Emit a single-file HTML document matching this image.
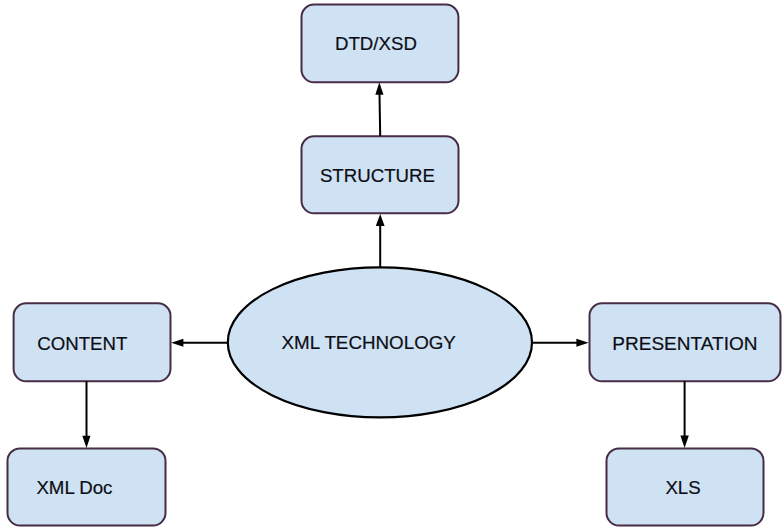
<!DOCTYPE html>
<html><head><meta charset="utf-8">
<style>
html,body{margin:0;padding:0;background:#fff;}
body{width:784px;height:531px;overflow:hidden;position:relative;}
svg{position:absolute;left:0;top:0;}
text{font-family:"Liberation Sans", sans-serif;font-size:18.67px;fill:#0d0d14;stroke:#0d0d14;stroke-width:0.2px;}
</style></head><body>
<svg width="784" height="531" viewBox="0 0 784 531">
<g fill="#cfe2f3" stroke="#472c45" stroke-width="2">
<rect x="301.5" y="4.6" width="156.9" height="77.7" rx="12.5"/>
<rect x="301.5" y="136.3" width="157" height="77" rx="12.5"/>
<rect x="13.6" y="303.3" width="156.9" height="78" rx="12.5"/>
<rect x="7.5" y="448.4" width="158" height="77.1" rx="12.5"/>
<rect x="589.5" y="303.3" width="191" height="78" rx="12.5"/>
<rect x="606.5" y="448.4" width="157" height="77.1" rx="12.5"/>
</g>
<ellipse cx="379.9" cy="342.4" rx="152.1" ry="75" fill="#cfe2f3" stroke="#000" stroke-width="2.2"/>
<g stroke="#000" stroke-width="2" fill="none">
<line x1="380.2" y1="136" x2="379.5" y2="94"/>
<line x1="380.2" y1="267" x2="380.2" y2="225"/>
<line x1="228" y1="342.7" x2="182" y2="342.7"/>
<line x1="532" y1="342.7" x2="577" y2="342.7"/>
<line x1="86.5" y1="381" x2="86.5" y2="437"/>
<line x1="684.6" y1="381" x2="684.6" y2="437"/>
</g>
<g fill="#000">
<polygon points="379.3,82.3 375.3,94.7 383.5,94.7"/>
<polygon points="380.2,214.1 375.8,226 384.6,226"/>
<polygon points="171.2,342.7 183.4,338.7 183.4,346.7"/>
<polygon points="588.6,342.7 576.4,338.7 576.4,346.7"/>
<polygon points="86.5,447.9 82.3,435.8 90.5,435.8"/>
<polygon points="684.6,447.9 680.4,435.6 688.8,435.6"/>
</g>
<text x="335" y="50.2">DTD/XSD</text>
<text x="319.9" y="181.6">STRUCTURE</text>
<text x="37.2" y="349.5">CONTENT</text>
<text x="36.4" y="494">XML Doc</text>
<text x="612.3" y="349.5" style="font-size:19.05px">PRESENTATION</text>
<text x="665.4" y="494">XLS</text>
<text x="281.6" y="349.4" style="font-size:18.8px">XML TECHNOLOGY</text>
</svg>
</body></html>
